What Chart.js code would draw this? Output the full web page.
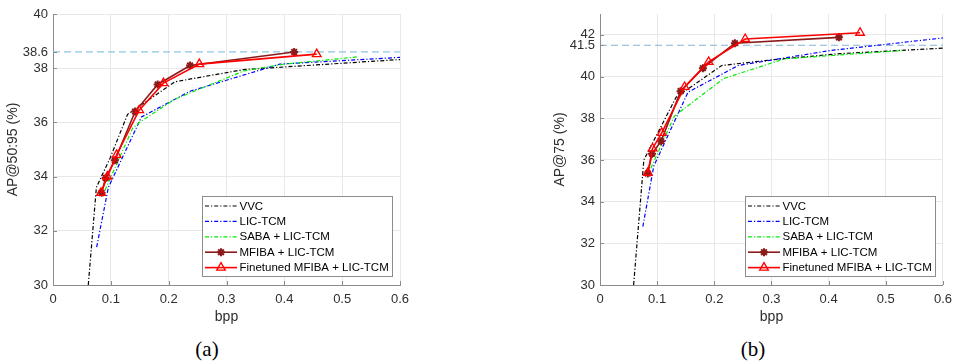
<!DOCTYPE html>
<html>
<head>
<meta charset="utf-8">
<script src="https://cdn.jsdelivr.net/npm/chart.js@4/dist/chart.umd.min.js"></script>
<style>
  body { margin: 0; background: #fff; width: 959px; height: 363px; position: relative; overflow: hidden; }
  .panel { position: absolute; top: 0; height: 330px; }
  #panelA { left: 0; width: 480px; }
  #panelB { left: 547px; width: 412px; }
  .cap { position: absolute; top: 337px; font-family: "Liberation Serif", serif; font-size: 21px; color: #000; transform: translateX(-50%); }
</style>
</head>
<body>
<div class="panel" id="panelA"><canvas id="chartA" width="480" height="330"></canvas></div>
<div class="panel" id="panelB"><canvas id="chartB" width="412" height="330"></canvas></div>
<div class="cap" style="left:207px">(a)</div>
<div class="cap" style="left:753px">(b)</div>
<script>
// (a) AP@50:95
const vvcA_bpp   = [0.061, 0.075, 0.099, 0.129, 0.211, 0.330, 0.600];
const vvcA_ap    = [30.0, 33.6, 34.7, 36.3, 37.5, 37.95, 38.32];
const licA_bpp   = [0.0755, 0.0957, 0.153, 0.237, 0.392, 0.600];
const licA_ap    = [31.4, 33.6, 36.2, 37.15, 38.15, 38.4];
const sabaA_bpp  = [0.090, 0.138, 0.153, 0.210, 0.330, 0.400, 0.528];
const sabaA_ap   = [33.5, 35.8, 36.05, 36.85, 37.9, 38.15, 38.42];
const mfibaA_bpp = [0.084, 0.091, 0.107, 0.142, 0.181, 0.237, 0.417];
const mfibaA_ap  = [33.4, 33.95, 34.6, 36.4, 37.4, 38.1, 38.6];
const ftA_bpp    = [0.083, 0.094, 0.110, 0.149, 0.191, 0.253, 0.456];
const ftA_ap     = [33.4, 34.0, 34.8, 36.45, 37.45, 38.15, 38.52];
const ticksA     = [30, 32, 34, 36, 38, 38.6, 40];
const refA       = 38.6;

// (b) AP@75
const vvcB_bpp   = [0.0588, 0.0767, 0.133, 0.213, 0.300, 0.420, 0.600];
const vvcB_ap    = [30.0, 36.0, 39.0, 40.53, 40.8, 41.1, 41.36];
const licB_bpp   = [0.075, 0.094, 0.154, 0.242, 0.403, 0.600];
const licB_ap    = [32.8, 35.7, 39.25, 40.53, 41.25, 41.85];
const sabaB_bpp  = [0.089, 0.130, 0.216, 0.323, 0.530];
const sabaB_ap   = [35.6, 38.1, 39.9, 40.85, 41.25];
const mfibaB_bpp = [0.0836, 0.091, 0.107, 0.141, 0.180, 0.236, 0.418];
const mfibaB_ap  = [35.35, 36.3, 36.9, 39.3, 40.4, 41.6, 41.88];
const ftB_bpp    = [0.0836, 0.092, 0.108, 0.148, 0.190, 0.254, 0.455];
const ftB_ap     = [35.38, 36.55, 37.3, 39.5, 40.7, 41.8, 42.1];
const ticksB     = [30, 32, 34, 36, 38, 40, 41.5, 42];
const refB       = 41.5;

const xTicks = [0, 0.1, 0.2, 0.3, 0.4, 0.5, 0.6];
const labels = ['VVC', 'LIC-TCM', 'SABA + LIC-TCM', 'MFIBA + LIC-TCM', 'Finetuned MFIBA + LIC-TCM'];

const FONT = '"Liberation Sans", Arial, sans-serif';
const TXT = '#2e2e2e';
const AXIS = '#8c8c8c';
const DASHDOT = [4, 2, 1.2, 2];

const pts = (xs, ys) => xs.map((x, i) => ({ x: x, y: ys[i] }));

// short tick marks pointing into the plot, on the x and y axis lines
const innerTicks = {
  id: 'innerTicks',
  afterDatasetsDraw(chart) {
    const { ctx, chartArea, scales } = chart;
    ctx.save();
    ctx.strokeStyle = AXIS;
    ctx.lineWidth = 1;
    ctx.beginPath();
    scales.x.ticks.forEach(t => {
      const px = Math.round(scales.x.getPixelForValue(t.value)) + 0.5;
      ctx.moveTo(px, chartArea.bottom);
      ctx.lineTo(px, chartArea.bottom - 4);
    });
    scales.y.ticks.forEach(t => {
      const py = Math.round(scales.y.getPixelForValue(t.value)) + 0.5;
      ctx.moveTo(chartArea.left, py);
      ctx.lineTo(chartArea.left + 4, py);
    });
    ctx.stroke();
    ctx.restore();
  }
};

// legend box in the lower right corner of the plot area
const boxLegend = {
  id: 'boxLegend',
  afterDraw(chart) {
    const { ctx, chartArea } = chart;
    const w = 190, h = 80;
    const x0 = Math.round(chartArea.right - 8 - w), y0 = Math.round(chartArea.bottom - 9 - h);
    ctx.save();
    ctx.fillStyle = '#fff';
    ctx.fillRect(x0, y0, w, h);
    ctx.strokeStyle = AXIS;
    ctx.lineWidth = 1;
    ctx.strokeRect(x0 + 0.5, y0 + 0.5, w, h);
    chart.data.datasets.filter(d => d.label).forEach((d, i) => {
      const y = y0 + 10 + i * 15.4;
      ctx.strokeStyle = d.borderColor;
      ctx.lineWidth = d.borderWidth;
      ctx.setLineDash(d.borderDash || []);
      ctx.beginPath();
      ctx.moveTo(x0 + 3, y);
      ctx.lineTo(x0 + 35, y);
      ctx.stroke();
      ctx.setLineDash([]);
      if (d.pointRadius) {
        ctx.fillStyle = d.pointBackgroundColor;
        ctx.strokeStyle = d.pointBorderColor;
        ctx.lineWidth = d.pointBorderWidth;
        Chart.helpers.drawPoint(ctx, { pointStyle: d.pointStyle, radius: d.pointRadius, borderWidth: d.pointBorderWidth, rotation: 0 }, x0 + 19, y);
      }
      ctx.fillStyle = '#000';
      ctx.font = '11.5px ' + FONT;
      ctx.textBaseline = 'middle';
      ctx.textAlign = 'left';
      ctx.fillText(d.label, x0 + 37.5, y + 0.5);
    });
    ctx.restore();
  }
};

function makeChart(id, s, yMax, yTicks, ref, refColor, yTitle, rightPad) {
  const datasets = [
    { label: labels[0], data: pts(s[0][0], s[0][1]), borderColor: '#000000', borderWidth: 1.2, borderDash: DASHDOT, pointRadius: 0, order: 4 },
    { label: labels[1], data: pts(s[1][0], s[1][1]), borderColor: '#0000ff', borderWidth: 1.2, borderDash: DASHDOT, pointRadius: 0, order: 3 },
    { label: labels[2], data: pts(s[2][0], s[2][1]), borderColor: '#00ee00', borderWidth: 1.2, borderDash: DASHDOT, pointRadius: 0, order: 2 },
    { label: labels[3], data: pts(s[3][0], s[3][1]), borderColor: '#8b1a1a', borderWidth: 1.6,
      pointStyle: 'star', pointRadius: 4, pointBorderWidth: 2, pointBorderColor: '#8b1a1a', pointBackgroundColor: '#8b1a1a', order: 1 },
    { label: labels[4], data: pts(s[4][0], s[4][1]), borderColor: '#ff0000', borderWidth: 1.6,
      pointStyle: 'triangle', pointRadius: 5, pointBorderWidth: 1.3, pointBorderColor: '#ff0000', pointBackgroundColor: 'rgba(255,255,255,0)', order: 0 },
    { label: '', data: [{ x: 0, y: ref }, { x: 0.6, y: ref }], borderColor: refColor, borderWidth: 1.2, borderDash: [7, 4], pointRadius: 0, order: 5 }
  ];

  return new Chart(document.getElementById(id), {
    type: 'line',
    data: { datasets: datasets },
    options: {
      responsive: false,
      animation: false,
      layout: { padding: { left: 0, right: rightPad, top: 14, bottom: 0 } },
      plugins: { legend: { display: false }, tooltip: { enabled: false } },
      elements: { line: { tension: 0 } },
      scales: {
        x: {
          type: 'linear', min: 0, max: 0.6,
          afterBuildTicks: sc => { sc.ticks = xTicks.map(v => ({ value: v })); },
          afterFit: sc => { sc.height = 45; },
          ticks: { autoSkip: false, maxRotation: 0, padding: 7, color: TXT, font: { family: FONT, size: 13 },
                   callback: v => v === 0 ? '0' : v.toFixed(1) },
          grid: { color: '#e8e8e8', drawTicks: false },
          border: { color: AXIS, width: 1 },
          title: { display: true, text: 'bpp', color: TXT, font: { family: FONT, size: 14 }, padding: { top: 0, bottom: 4 } }
        },
        y: {
          type: 'linear', min: 30, max: yMax,
          afterBuildTicks: sc => { sc.ticks = yTicks.map(v => ({ value: v })); },
          afterFit: sc => { sc.width = 53; },
          ticks: { autoSkip: false, padding: 5, color: TXT, font: { family: FONT, size: 13 },
                   callback: v => String(v) },
          grid: { color: c => (c.tick && c.tick.value === ref) ? 'rgba(0,0,0,0)' : '#e8e8e8', drawTicks: false },
          border: { color: AXIS, width: 1 },
          title: { display: true, text: yTitle, color: TXT, font: { family: FONT, size: 14 }, padding: { top: 5, bottom: 0 } }
        }
      }
    },
    plugins: [innerTicks, boxLegend]
  });
}

makeChart('chartA',
  [[vvcA_bpp, vvcA_ap], [licA_bpp, licA_ap], [sabaA_bpp, sabaA_ap], [mfibaA_bpp, mfibaA_ap], [ftA_bpp, ftA_ap]],
  40, ticksA, refA, '#8ec6e6', 'AP@50:95 (%)', 80);

makeChart('chartB',
  [[vvcB_bpp, vvcB_ap], [licB_bpp, licB_ap], [sabaB_bpp, sabaB_ap], [mfibaB_bpp, mfibaB_ap], [ftB_bpp, ftB_ap]],
  43, ticksB, refB, '#86b4d2', 'AP@75 (%)', 12);
</script>
</body>
</html>
